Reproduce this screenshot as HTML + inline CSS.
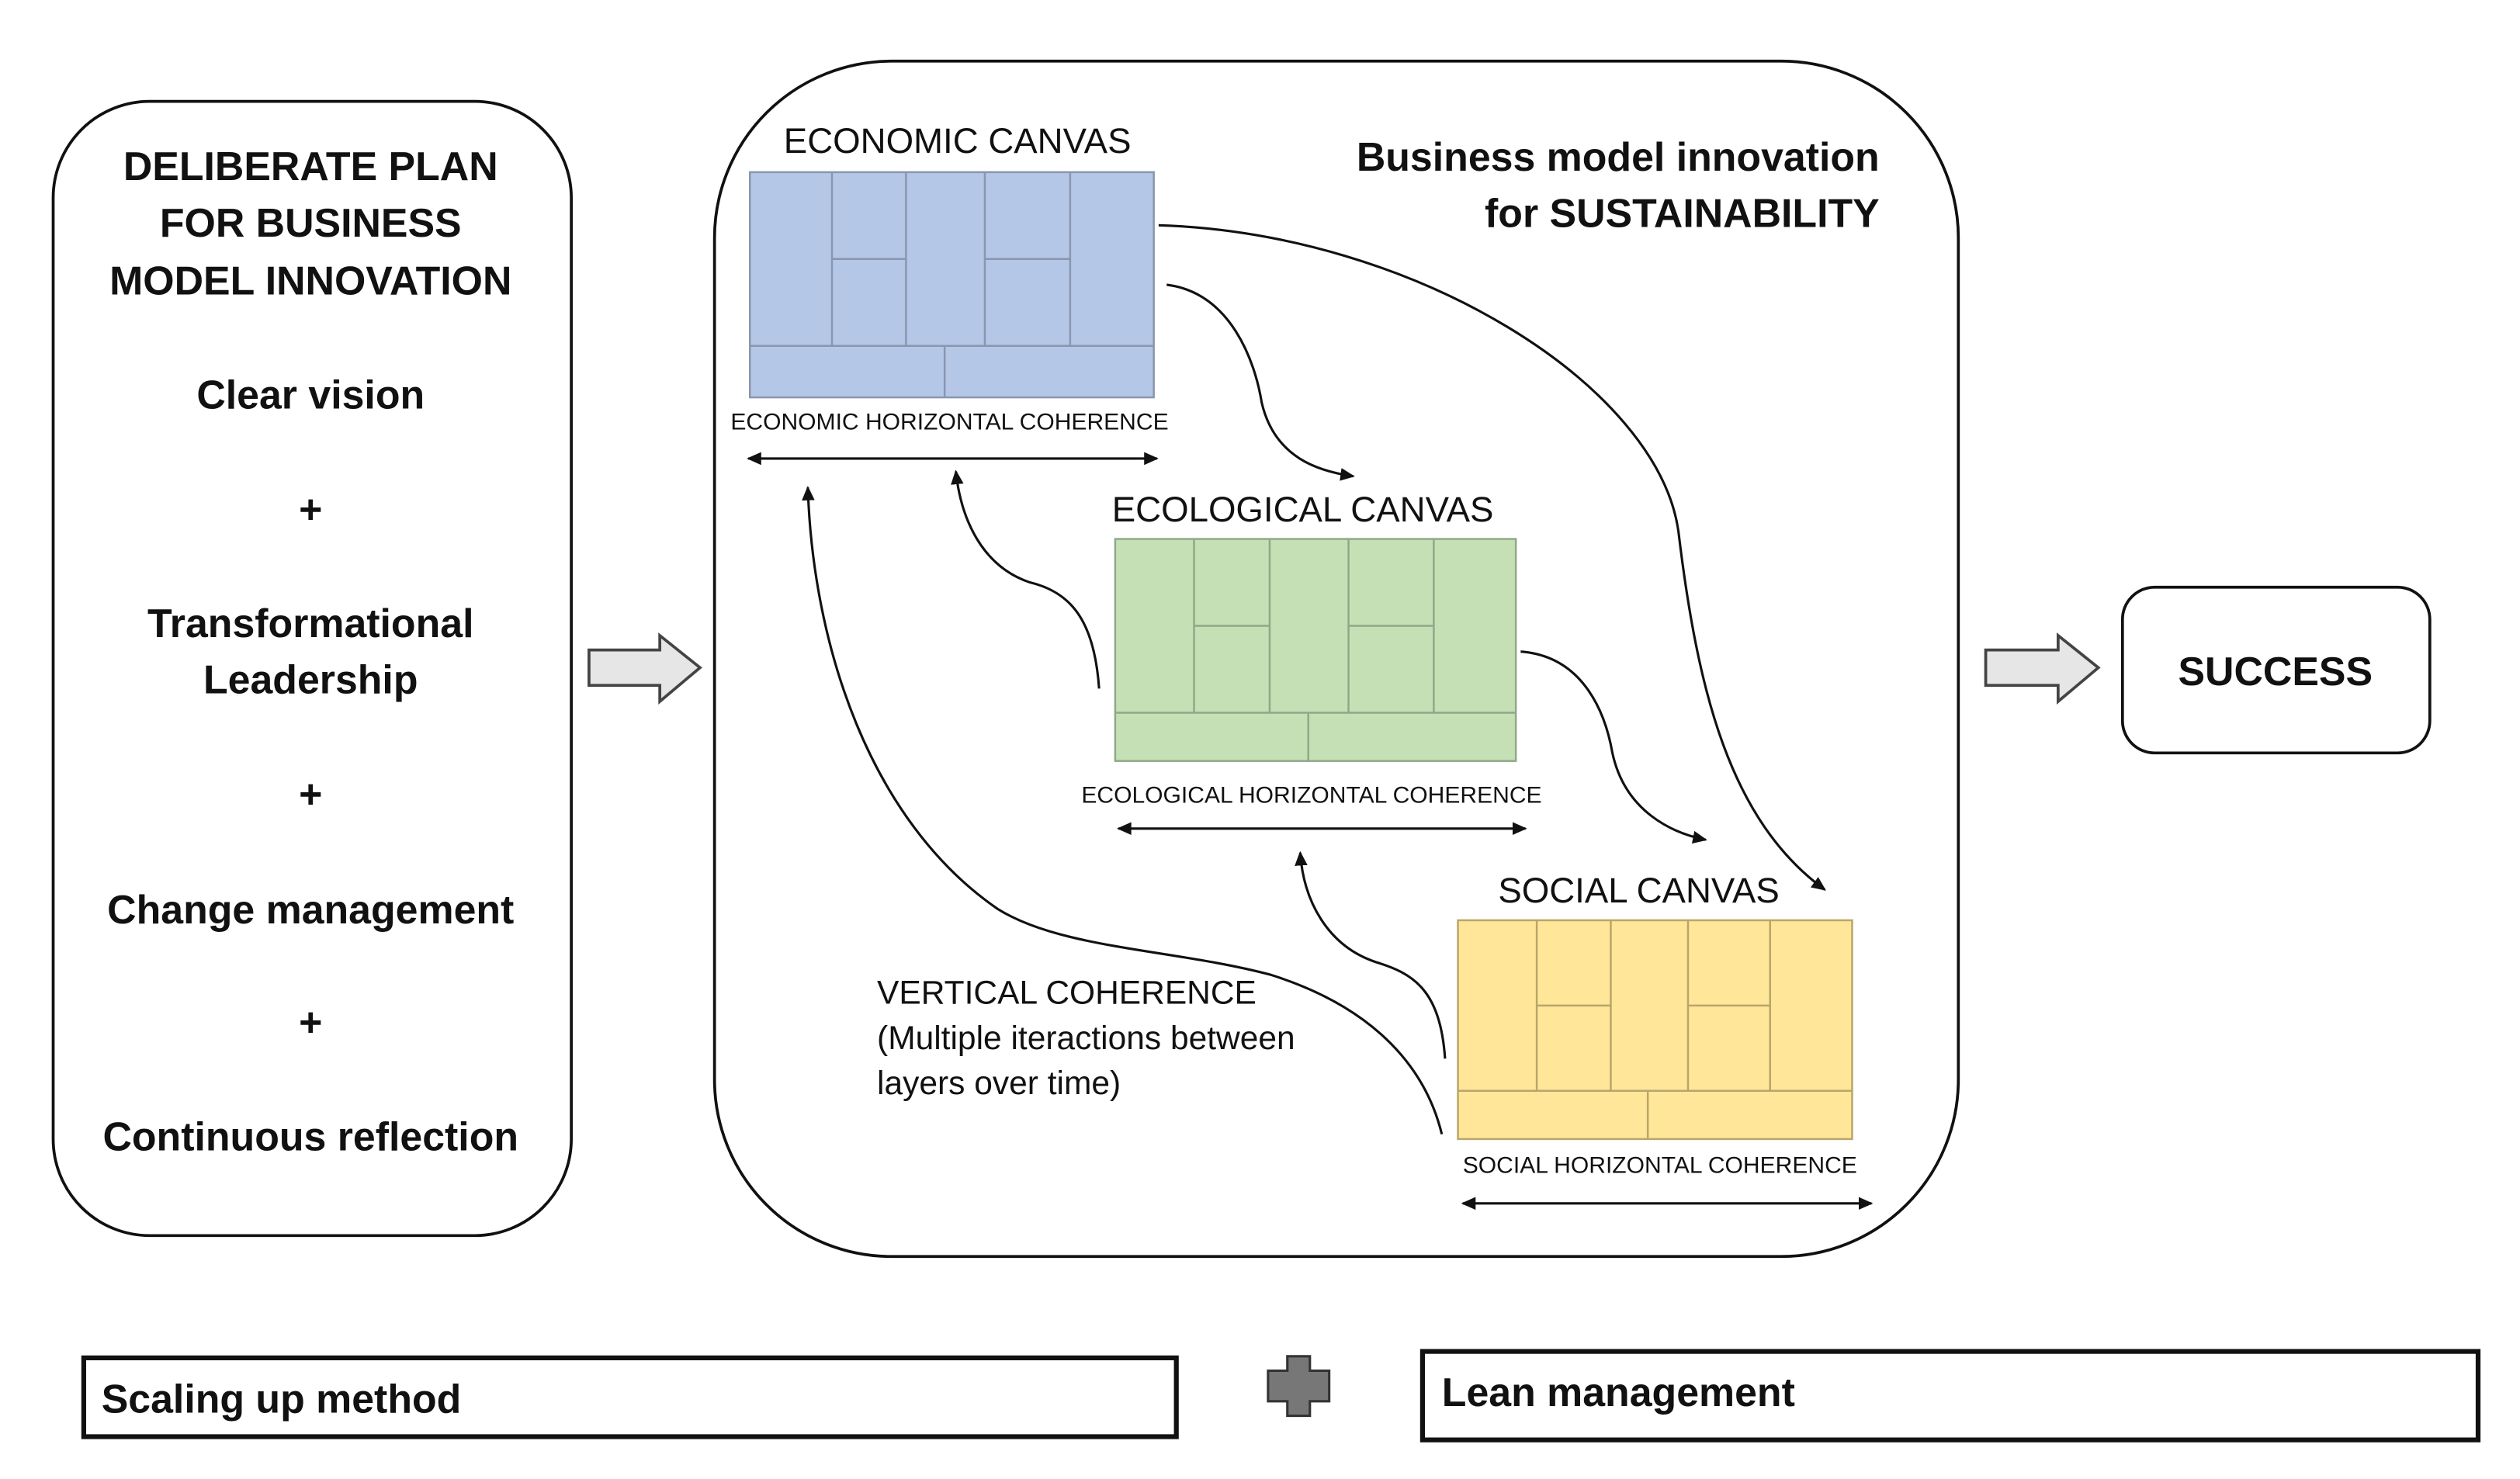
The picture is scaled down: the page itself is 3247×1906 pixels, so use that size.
<!DOCTYPE html>
<html><head><meta charset="utf-8"><style>
html,body{margin:0;padding:0;background:#fff;}
svg{display:block;}
text{font-family:"Liberation Sans",sans-serif;fill:#111;}
.b{font-weight:bold;font-size:25px;}
.c{font-size:14.5px;}
.t{font-size:22px;}
</style></head><body>
<svg width="3247" height="1906" viewBox="0 0 1566 919.3" xmlns="http://www.w3.org/2000/svg">
<defs>
<marker id="ah" markerWidth="10" markerHeight="10" refX="8" refY="5" orient="auto" markerUnits="userSpaceOnUse">
<path d="M0,1 L9,5 L0,9 Z" fill="#111"/></marker>
<marker id="as" markerWidth="10" markerHeight="10" refX="1" refY="5" orient="auto" markerUnits="userSpaceOnUse">
<path d="M9,1 L0,5 L9,9 Z" fill="#111"/></marker>
</defs>
<rect x="33" y="63" width="322" height="705" rx="60" fill="#fff" stroke="#111" stroke-width="1.8"/>
<g class="b" text-anchor="middle">
<text x="193" y="112">DELIBERATE PLAN</text>
<text x="193" y="147">FOR BUSINESS</text>
<text x="193" y="183">MODEL INNOVATION</text>
<text x="193" y="254">Clear vision</text>
<text x="193" y="325">+</text>
<text x="193" y="396">Transformational</text>
<text x="193" y="431">Leadership</text>
<text x="193" y="502">+</text>
<text x="193" y="574">Change management</text>
<text x="193" y="644">+</text>
<text x="193" y="715">Continuous reflection</text>
</g>
<path d="M366,404 L410,404 L410,395 L435,415 L410,436 L410,426 L366,426 Z" fill="#e6e6e6" stroke="#444" stroke-width="1.8"/>
<path d="M1234,404 L1279,404 L1279,395 L1304,415 L1279,436 L1279,426 L1234,426 Z" fill="#e6e6e6" stroke="#444" stroke-width="1.8"/>
<rect x="444" y="38" width="773" height="743" rx="110" fill="none" stroke="#111" stroke-width="1.8"/>
<g class="b" text-anchor="end">
<text x="1168" y="106">Business model innovation</text>
<text x="1168" y="141">for SUSTAINABILITY</text>
</g>
<g stroke="#8a96ae" stroke-width="1.2" fill="none">
<rect x="466" y="107" width="251" height="140" fill="#b4c7e7"/>
<path d="M517,107V215 M563,107V215 M612,107V215 M665,107V215 M517,161H563 M612,161H665 M466,215H717 M587,215V247"/>
</g>
<text x="487" y="95" class="t">ECONOMIC CANVAS</text>
<text x="454" y="267" class="c">ECONOMIC HORIZONTAL COHERENCE</text>
<line x1="465" y1="285" x2="719" y2="285" stroke="#111" stroke-width="1.5" marker-start="url(#as)" marker-end="url(#ah)"/>
<g stroke="#8fa88a" stroke-width="1.2" fill="none">
<rect x="693" y="335" width="249" height="138" fill="#c5e0b4"/>
<path d="M742,335V443 M789,335V443 M838,335V443 M891,335V443 M742,389H789 M838,389H891 M693,443H942 M813,443V473"/>
</g>
<text x="691" y="324" class="t">ECOLOGICAL CANVAS</text>
<text x="672" y="499" class="c">ECOLOGICAL HORIZONTAL COHERENCE</text>
<line x1="695" y1="515" x2="948" y2="515" stroke="#111" stroke-width="1.5" marker-start="url(#as)" marker-end="url(#ah)"/>
<g stroke="#b8a66a" stroke-width="1.2" fill="none">
<rect x="906" y="572" width="245" height="136" fill="#ffe699"/>
<path d="M955,572V678 M1001,572V678 M1049,572V678 M1100,572V678 M955,625H1001 M1049,625H1100 M906,678H1151 M1024,678V708"/>
</g>
<text x="931" y="561" class="t">SOCIAL CANVAS</text>
<text x="909" y="729" class="c">SOCIAL HORIZONTAL COHERENCE</text>
<line x1="909" y1="748" x2="1163" y2="748" stroke="#111" stroke-width="1.5" marker-start="url(#as)" marker-end="url(#ah)"/>
<g fill="none" stroke="#111" stroke-width="1.5">
<path d="M720,140 C880,145 1030,240 1043,330 C1055,430 1075,510 1134,553" marker-end="url(#ah)"/>
<path d="M725,177 C765,182 780,225 784,250 C792,285 820,293 841,296" marker-end="url(#ah)"/>
<path d="M945,405 C985,408 998,445 1002,468 C1010,505 1040,518 1060,522" marker-end="url(#ah)"/>
<path d="M683,428 C680,385 665,368 640,362 C610,352 597,322 594,293" marker-end="url(#ah)"/>
<path d="M898,658 C895,615 878,605 855,598 C825,588 810,560 808,530" marker-end="url(#ah)"/>
<path d="M896,705 C885,660 850,625 790,606 C730,590 660,590 620,565 C540,510 505,400 502,303" marker-end="url(#ah)"/>
</g>
<g style="font-size:20.5px">
<text x="545" y="624">VERTICAL  COHERENCE</text>
<text x="545" y="652">(Multiple iteractions between</text>
<text x="545" y="680">layers over time)</text>
</g>
<rect x="1319" y="365" width="191" height="103" rx="20" fill="#fff" stroke="#111" stroke-width="1.8"/>
<text x="1414" y="426" class="b" text-anchor="middle">SUCCESS</text>
<rect x="52" y="844" width="679" height="49" fill="#fff" stroke="#111" stroke-width="3"/>
<text x="63" y="878" class="b">Scaling up method</text>
<path d="M800,843 H814 V852 H826 V871 H814 V880 H800 V871 H788 V852 H800 Z" fill="#777" stroke="#333" stroke-width="1.5"/>
<rect x="884" y="840" width="656" height="55" fill="#fff" stroke="#111" stroke-width="3"/>
<text x="896" y="874" class="b">Lean management</text>
</svg>
</body></html>
